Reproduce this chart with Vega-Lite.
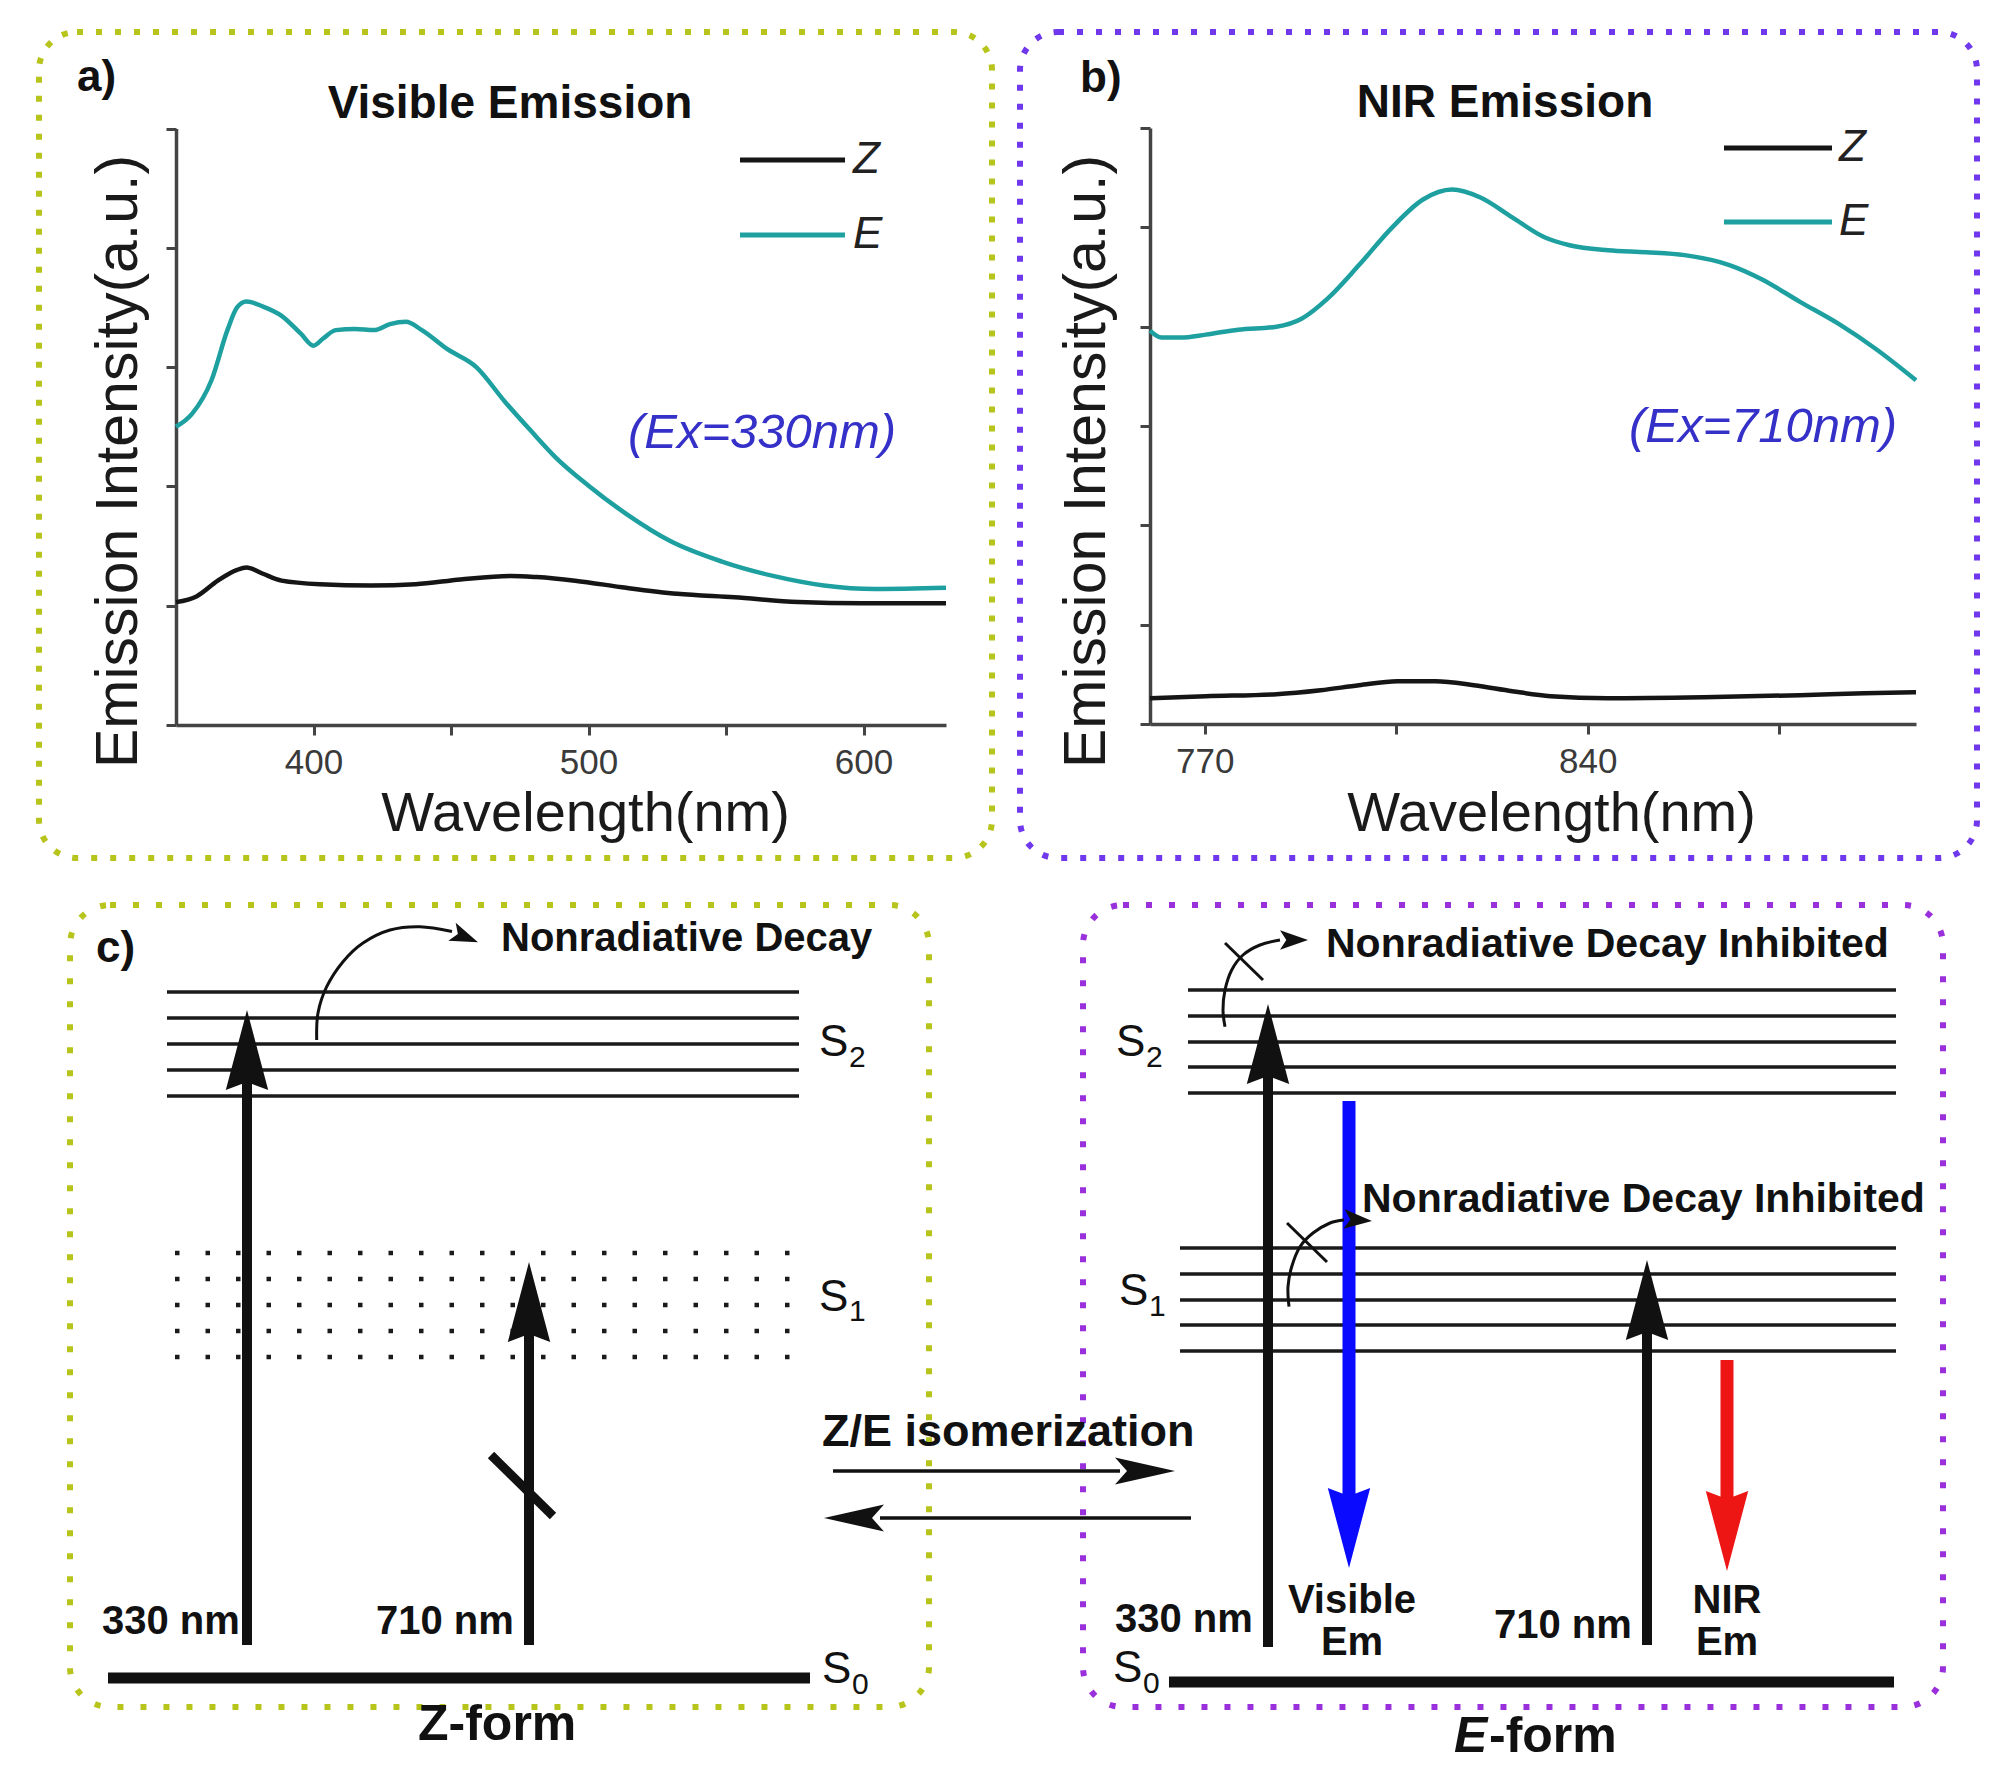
{
  "$schema": "https://vega.github.io/schema/vega-lite/v6.json",
  "width": 1999,
  "height": 1770,
  "autosize": {"type": "none"},
  "padding": 0,
  "background": "white",
  "config": {
    "view": {"stroke": null},
    "font": "Liberation Sans",
    "axis": {
      "grid": false,
      "domainColor": "#444444",
      "domainWidth": 3.5,
      "tickColor": "#444444",
      "tickWidth": 3,
      "tickSize": 10,
      "labelFont": "Liberation Sans",
      "labelFontSize": 35,
      "labelColor": "#3a3a3a",
      "labelPadding": 10,
      "titleFont": "Liberation Sans",
      "titleFontWeight": "normal",
      "titleColor": "#1a1a1a"
    }
  },
  "resolve": {"scale": {"x": "independent", "y": "independent"}},
  "layer": [
    {
      "encoding": {
        "x": {"field": "x", "type": "quantitative", "scale": {"domain": [0, 1999], "range": [0, 1999], "nice": false, "zero": false}, "axis": null},
        "y": {"field": "y", "type": "quantitative", "scale": {"domain": [0, 1770], "range": [0, 1770], "nice": false, "zero": false}, "axis": null}
      },
      "layer": [
        {
          "data": {"values": [
            {"panel": "a", "x": 39, "x2": 992, "y": 32, "y2": 858},
            {"panel": "b", "x": 1020, "x2": 1977, "y": 32, "y2": 858}
          ]},
          "mark": {"type": "rect", "filled": false, "cornerRadius": 38, "strokeWidth": 6, "strokeDash": [6, 13]},
          "encoding": {
            "x2": {"field": "x2"}, "y2": {"field": "y2"},
            "stroke": {"field": "panel", "type": "nominal", "scale": {"domain": ["a", "b", "cZ", "cE"], "range": ["#b6c41c", "#7038ec", "#b6c41c", "#9a30dc"]}, "legend": null}
          }
        },
        {
          "data": {"values": [
            {"panel": "cZ", "x": 70, "x2": 929, "y": 905, "y2": 1707},
            {"panel": "cE", "x": 1083, "x2": 1943, "y": 905, "y2": 1707}
          ]},
          "mark": {"type": "rect", "filled": false, "cornerRadius": 40, "strokeWidth": 6, "strokeDash": [6, 17]},
          "encoding": {
            "x2": {"field": "x2"}, "y2": {"field": "y2"},
            "stroke": {"field": "panel", "type": "nominal", "scale": {"domain": ["a", "b", "cZ", "cE"], "range": ["#b6c41c", "#7038ec", "#b6c41c", "#9a30dc"]}, "legend": null}
          }
        },
        {
          "data": {"values": [
            {"form": "Z", "x": 740, "x2": 845, "y": 160},
            {"form": "E", "x": 740, "x2": 845, "y": 235},
            {"form": "Z", "x": 1724, "x2": 1832, "y": 148},
            {"form": "E", "x": 1724, "x2": 1832, "y": 222}
          ]},
          "mark": {"type": "rule", "strokeWidth": 5},
          "encoding": {
            "x2": {"field": "x2"},
            "color": {"field": "form", "type": "nominal", "scale": {"domain": ["Z", "E"], "range": ["#151515", "#1fa0a0"]}, "legend": null}
          }
        },
        {
          "data": {"values": [
            {"label": "Z", "x": 853, "y": 160},
            {"label": "E", "x": 853, "y": 235},
            {"label": "Z", "x": 1839, "y": 148},
            {"label": "E", "x": 1839, "y": 222}
          ]},
          "mark": {"type": "text", "font": "Liberation Sans", "fontSize": 44, "fontStyle": "italic", "align": "left", "baseline": "middle", "color": "#222222"},
          "encoding": {"text": {"field": "label"}}
        },
        {
          "data": {"values": [
            {"label": "a)", "x": 77, "y": 91},
            {"label": "b)", "x": 1080, "y": 92},
            {"label": "c)", "x": 96, "y": 962}
          ]},
          "mark": {"type": "text", "font": "Liberation Sans", "fontSize": 44, "fontWeight": "bold", "align": "left", "baseline": "alphabetic", "color": "#111111"},
          "encoding": {"text": {"field": "label"}}
        },
        {
          "data": {"values": [
            {"label": "Visible Emission", "x": 510, "y": 104},
            {"label": "NIR Emission", "x": 1505, "y": 103}
          ]},
          "mark": {"type": "text", "font": "Liberation Sans", "fontSize": 46, "fontWeight": "bold", "align": "center", "baseline": "middle", "color": "#111111"},
          "encoding": {"text": {"field": "label"}}
        },
        {
          "data": {"values": [
            {"label": "(Ex=330nm)", "x": 762, "y": 433},
            {"label": "(Ex=710nm)", "x": 1763, "y": 427}
          ]},
          "mark": {"type": "text", "font": "Liberation Sans", "fontSize": 49, "fontStyle": "italic", "align": "center", "baseline": "middle", "color": "#3430c8"},
          "encoding": {"text": {"field": "label"}}
        },
        {
          "data": {"values": [
            {"state": "S2", "x": 167, "x2": 799, "y": 992},
            {"state": "S2", "x": 167, "x2": 799, "y": 1018},
            {"state": "S2", "x": 167, "x2": 799, "y": 1044},
            {"state": "S2", "x": 167, "x2": 799, "y": 1070},
            {"state": "S2", "x": 167, "x2": 799, "y": 1096},
            {"state": "S2", "x": 1188, "x2": 1896, "y": 990},
            {"state": "S2", "x": 1188, "x2": 1896, "y": 1016},
            {"state": "S2", "x": 1188, "x2": 1896, "y": 1042},
            {"state": "S2", "x": 1188, "x2": 1896, "y": 1067},
            {"state": "S2", "x": 1188, "x2": 1896, "y": 1093},
            {"state": "S1", "x": 1180, "x2": 1896, "y": 1248},
            {"state": "S1", "x": 1180, "x2": 1896, "y": 1274},
            {"state": "S1", "x": 1180, "x2": 1896, "y": 1300},
            {"state": "S1", "x": 1180, "x2": 1896, "y": 1325},
            {"state": "S1", "x": 1180, "x2": 1896, "y": 1351}
          ]},
          "mark": {"type": "rule", "strokeWidth": 3.5, "color": "#1a1a1a"},
          "encoding": {"x2": {"field": "x2"}}
        },
        {
          "data": {"values": [
            {"state": "S1", "x": 175, "x2": 795, "y": 1253},
            {"state": "S1", "x": 175, "x2": 795, "y": 1279},
            {"state": "S1", "x": 175, "x2": 795, "y": 1305},
            {"state": "S1", "x": 175, "x2": 795, "y": 1331},
            {"state": "S1", "x": 175, "x2": 795, "y": 1357}
          ]},
          "mark": {"type": "rule", "strokeWidth": 4.5, "strokeDash": [4.5, 26], "color": "#1a1a1a"},
          "encoding": {"x2": {"field": "x2"}}
        },
        {
          "data": {"values": [
            {"state": "S0", "x": 108, "x2": 810, "y": 1678},
            {"state": "S0", "x": 1169, "x2": 1894, "y": 1682}
          ]},
          "mark": {"type": "rule", "strokeWidth": 11, "color": "#111111"},
          "encoding": {"x2": {"field": "x2"}}
        },
        {
          "data": {"values": [
            {"arrow": "330 Z", "x": 247, "y": 1645, "y2": 1060},
            {"arrow": "710 Z", "x": 529, "y": 1645, "y2": 1320},
            {"arrow": "330 E", "x": 1268, "y": 1647, "y2": 1060},
            {"arrow": "710 E", "x": 1647, "y": 1645, "y2": 1320}
          ]},
          "mark": {"type": "rule", "strokeWidth": 10, "color": "#111111"},
          "encoding": {"y2": {"field": "y2"}}
        },
        {
          "data": {"values": [{"arrow": "Visible Em", "x": 1349, "y": 1101, "y2": 1510}]},
          "mark": {"type": "rule", "strokeWidth": 13, "color": "#0a0aff"},
          "encoding": {"y2": {"field": "y2"}}
        },
        {
          "data": {"values": [{"arrow": "NIR Em", "x": 1727, "y": 1360, "y2": 1510}]},
          "mark": {"type": "rule", "strokeWidth": 13, "color": "#ee1515"},
          "encoding": {"y2": {"field": "y2"}}
        },
        {
          "data": {"values": [
            {"arrow": "330 Z", "x": 247, "y": 1050},
            {"arrow": "710 Z", "x": 529, "y": 1302},
            {"arrow": "330 E", "x": 1268, "y": 1044},
            {"arrow": "710 E", "x": 1647, "y": 1300}
          ]},
          "mark": {"type": "point", "shape": "M0,-1L0.53,1L0,0.8L-0.53,1Z", "size": 6400, "filled": true, "opacity": 1, "strokeWidth": 0, "color": "#111111"}
        },
        {
          "data": {"values": [{"arrow": "Visible Em", "x": 1349, "y": 1528}]},
          "mark": {"type": "point", "shape": "M0,-1L0.53,1L0,0.8L-0.53,1Z", "size": 6400, "angle": 180, "filled": true, "opacity": 1, "strokeWidth": 0, "color": "#0a0aff"}
        },
        {
          "data": {"values": [{"arrow": "NIR Em", "x": 1727, "y": 1531}]},
          "mark": {"type": "point", "shape": "M0,-1L0.53,1L0,0.8L-0.53,1Z", "size": 6400, "angle": 180, "filled": true, "opacity": 1, "strokeWidth": 0, "color": "#ee1515"}
        },
        {
          "data": {"values": [{"mark": "blocked", "x": 491, "y": 1455, "x2": 553, "y2": 1516}]},
          "mark": {"type": "rule", "strokeWidth": 9, "color": "#111111"},
          "encoding": {"x2": {"field": "x2"}, "y2": {"field": "y2"}}
        },
        {
          "data": {"values": [
            {"mark": "inhibited S2", "x": 1225, "y": 943, "x2": 1263, "y2": 980},
            {"mark": "inhibited S1", "x": 1287, "y": 1223, "x2": 1327, "y2": 1262}
          ]},
          "mark": {"type": "rule", "strokeWidth": 3, "color": "#111111"},
          "encoding": {"x2": {"field": "x2"}, "y2": {"field": "y2"}}
        },
        {
          "data": {"values": [
            {"dir": "Z to E", "x": 833, "x2": 1120, "y": 1471},
            {"dir": "E to Z", "x": 880, "x2": 1191, "y": 1518}
          ]},
          "mark": {"type": "rule", "strokeWidth": 3.5, "color": "#111111"},
          "encoding": {"x2": {"field": "x2"}}
        },
        {
          "data": {"values": [
            {"dir": "Z to E", "x": 1145, "y": 1471, "heading": 90},
            {"dir": "E to Z", "x": 854, "y": 1518, "heading": 270}
          ]},
          "mark": {"type": "point", "shape": "M0,-1L0.45,1L0,0.6L-0.45,1Z", "size": 3600, "filled": true, "opacity": 1, "strokeWidth": 0, "color": "#111111"},
          "encoding": {"angle": {"field": "heading", "type": "quantitative", "scale": {"domain": [0, 360], "range": [0, 360]}}}
        },
        {
          "data": {"values": [
            {"c": "L", "i": 0, "x": 316.7, "y": 1040},
            {"c": "L", "i": 1, "x": 318, "y": 1013},
            {"c": "L", "i": 2, "x": 326.7, "y": 986.7},
            {"c": "L", "i": 3, "x": 343, "y": 961.7},
            {"c": "L", "i": 4, "x": 363, "y": 943},
            {"c": "L", "i": 5, "x": 390, "y": 930},
            {"c": "L", "i": 6, "x": 420, "y": 926.7},
            {"c": "L", "i": 7, "x": 452, "y": 931.5},
            {"c": "T", "i": 0, "x": 1225, "y": 1026.7},
            {"c": "T", "i": 1, "x": 1223, "y": 1010},
            {"c": "T", "i": 2, "x": 1225, "y": 990},
            {"c": "T", "i": 3, "x": 1231.7, "y": 970},
            {"c": "T", "i": 4, "x": 1243, "y": 955},
            {"c": "T", "i": 5, "x": 1260, "y": 945},
            {"c": "T", "i": 6, "x": 1280, "y": 940},
            {"c": "M", "i": 0, "x": 1289, "y": 1306.7},
            {"c": "M", "i": 1, "x": 1288, "y": 1286.7},
            {"c": "M", "i": 2, "x": 1291.7, "y": 1266.7},
            {"c": "M", "i": 3, "x": 1300, "y": 1246.7},
            {"c": "M", "i": 4, "x": 1313, "y": 1233},
            {"c": "M", "i": 5, "x": 1330, "y": 1223},
            {"c": "M", "i": 6, "x": 1344, "y": 1220}
          ]},
          "mark": {"type": "line", "interpolate": "cardinal", "strokeWidth": 3, "color": "#111111"},
          "encoding": {"order": {"field": "i", "type": "quantitative"}, "detail": {"field": "c", "type": "nominal"}}
        },
        {
          "data": {"values": [
            {"c": "L", "x": 465, "y": 937, "heading": 112},
            {"c": "T", "x": 1294, "y": 940, "heading": 90},
            {"c": "M", "x": 1358, "y": 1220, "heading": 94}
          ]},
          "mark": {"type": "point", "shape": "M0,-1L0.7,1L0,0.55L-0.7,1Z", "size": 784, "filled": true, "opacity": 1, "strokeWidth": 0, "color": "#111111"},
          "encoding": {"angle": {"field": "heading", "type": "quantitative", "scale": {"domain": [0, 360], "range": [0, 360]}}}
        },
        {
          "data": {"values": [
            {"label": "Nonradiative Decay", "x": 501, "y": 939},
            {"label": "330 nm", "x": 102, "y": 1622},
            {"label": "710 nm", "x": 376, "y": 1622},
            {"label": "330 nm", "x": 1115, "y": 1620},
            {"label": "710 nm", "x": 1494, "y": 1626}
          ]},
          "mark": {"type": "text", "font": "Liberation Sans", "fontSize": 40, "fontWeight": "bold", "align": "left", "baseline": "middle", "color": "#111111"},
          "encoding": {"text": {"field": "label"}}
        },
        {
          "data": {"values": [
            {"label": "Nonradiative Decay Inhibited", "x": 1326, "y": 945},
            {"label": "Nonradiative Decay Inhibited", "x": 1362, "y": 1200}
          ]},
          "mark": {"type": "text", "font": "Liberation Sans", "fontSize": 41, "fontWeight": "bold", "align": "left", "baseline": "middle", "color": "#111111"},
          "encoding": {"text": {"field": "label"}}
        },
        {
          "data": {"values": [
            {"label": "Visible", "x": 1352, "y": 1601},
            {"label": "Em", "x": 1352, "y": 1643},
            {"label": "NIR", "x": 1727, "y": 1601},
            {"label": "Em", "x": 1727, "y": 1643}
          ]},
          "mark": {"type": "text", "font": "Liberation Sans", "fontSize": 40, "fontWeight": "bold", "align": "center", "baseline": "middle", "color": "#111111"},
          "encoding": {"text": {"field": "label"}}
        },
        {
          "data": {"values": [{"label": "Z/E isomerization", "x": 822, "y": 1432}]},
          "mark": {"type": "text", "font": "Liberation Sans", "fontSize": 45, "fontWeight": "bold", "align": "left", "baseline": "middle", "color": "#111111"},
          "encoding": {"text": {"field": "label"}}
        },
        {
          "data": {"values": [
            {"label": "Z-form", "x": 418, "y": 1725},
            {"label": "-form", "x": 1489, "y": 1737}
          ]},
          "mark": {"type": "text", "font": "Liberation Sans", "fontSize": 50, "fontWeight": "bold", "align": "left", "baseline": "middle", "color": "#111111"},
          "encoding": {"text": {"field": "label"}}
        },
        {
          "data": {"values": [{"label": "E", "x": 1454, "y": 1737}]},
          "mark": {"type": "text", "font": "Liberation Sans", "fontSize": 50, "fontWeight": "bold", "fontStyle": "italic", "align": "left", "baseline": "middle", "color": "#111111"},
          "encoding": {"text": {"field": "label"}}
        },
        {
          "data": {"values": [
            {"label": "S", "x": 819, "y": 1043},
            {"label": "S", "x": 819, "y": 1298},
            {"label": "S", "x": 822, "y": 1670},
            {"label": "S", "x": 1116, "y": 1043},
            {"label": "S", "x": 1119, "y": 1292},
            {"label": "S", "x": 1113, "y": 1669}
          ]},
          "mark": {"type": "text", "font": "Liberation Sans", "fontSize": 44, "align": "left", "baseline": "middle", "color": "#111111"},
          "encoding": {"text": {"field": "label"}}
        },
        {
          "data": {"values": [
            {"label": "2", "x": 849, "y": 1058},
            {"label": "1", "x": 849, "y": 1312},
            {"label": "0", "x": 852, "y": 1685},
            {"label": "2", "x": 1146, "y": 1058},
            {"label": "1", "x": 1149, "y": 1307},
            {"label": "0", "x": 1143, "y": 1684}
          ]},
          "mark": {"type": "text", "font": "Liberation Sans", "fontSize": 30, "align": "left", "baseline": "middle", "color": "#111111"},
          "encoding": {"text": {"field": "label"}}
        }
      ]
    },
    {
      "data": {"values": [
        {"form": "E", "nm": 350, "intensity": 2.50},
        {"form": "E", "nm": 355.9, "intensity": 2.61},
        {"form": "E", "nm": 362.9, "intensity": 2.89},
        {"form": "E", "nm": 368.7, "intensity": 3.31},
        {"form": "E", "nm": 372.2, "intensity": 3.50},
        {"form": "E", "nm": 375.6, "intensity": 3.55},
        {"form": "E", "nm": 381.4, "intensity": 3.51},
        {"form": "E", "nm": 388.4, "intensity": 3.43},
        {"form": "E", "nm": 395.4, "intensity": 3.28},
        {"form": "E", "nm": 400, "intensity": 3.18},
        {"form": "E", "nm": 403.5, "intensity": 3.24},
        {"form": "E", "nm": 408.1, "intensity": 3.31},
        {"form": "E", "nm": 415.1, "intensity": 3.32},
        {"form": "E", "nm": 422.0, "intensity": 3.31},
        {"form": "E", "nm": 427.8, "intensity": 3.36},
        {"form": "E", "nm": 433.6, "intensity": 3.38},
        {"form": "E", "nm": 439.4, "intensity": 3.31},
        {"form": "E", "nm": 448.7, "intensity": 3.15},
        {"form": "E", "nm": 459.2, "intensity": 3.00},
        {"form": "E", "nm": 469.6, "intensity": 2.71},
        {"form": "E", "nm": 478.9, "intensity": 2.47},
        {"form": "E", "nm": 488.2, "intensity": 2.24},
        {"form": "E", "nm": 499.8, "intensity": 2.01},
        {"form": "E", "nm": 513.7, "intensity": 1.77},
        {"form": "E", "nm": 529.9, "intensity": 1.54},
        {"form": "E", "nm": 548.5, "intensity": 1.37},
        {"form": "E", "nm": 567.1, "intensity": 1.25},
        {"form": "E", "nm": 585.6, "intensity": 1.17},
        {"form": "E", "nm": 604.2, "intensity": 1.14},
        {"form": "E", "nm": 630, "intensity": 1.15},
        {"form": "Z", "nm": 350, "intensity": 1.03},
        {"form": "Z", "nm": 357.6, "intensity": 1.08},
        {"form": "Z", "nm": 365.2, "intensity": 1.21},
        {"form": "Z", "nm": 372.2, "intensity": 1.30},
        {"form": "Z", "nm": 375.6, "intensity": 1.32},
        {"form": "Z", "nm": 381.4, "intensity": 1.27},
        {"form": "Z", "nm": 388.4, "intensity": 1.21},
        {"form": "Z", "nm": 402.3, "intensity": 1.18},
        {"form": "Z", "nm": 420.9, "intensity": 1.17},
        {"form": "Z", "nm": 437.1, "intensity": 1.18},
        {"form": "Z", "nm": 453.4, "intensity": 1.22},
        {"form": "Z", "nm": 471.9, "intensity": 1.25},
        {"form": "Z", "nm": 481.2, "intensity": 1.24},
        {"form": "Z", "nm": 495.1, "intensity": 1.21},
        {"form": "Z", "nm": 513.7, "intensity": 1.15},
        {"form": "Z", "nm": 532.3, "intensity": 1.10},
        {"form": "Z", "nm": 553.1, "intensity": 1.07},
        {"form": "Z", "nm": 576.3, "intensity": 1.03},
        {"form": "Z", "nm": 599.5, "intensity": 1.02},
        {"form": "Z", "nm": 630, "intensity": 1.02}
      ]},
      "mark": {"type": "line", "interpolate": "monotone", "strokeWidth": 4.5},
      "encoding": {
        "x": {"field": "nm", "type": "quantitative",
              "scale": {"domain": [350, 630], "range": [176, 946], "nice": false, "zero": false},
              "axis": {"orient": "bottom", "offset": -1045, "values": [400, 450, 500, 550, 600],
                       "labelExpr": "datum.value % 100 === 0 ? datum.label : ''",
                       "title": "Wavelength(nm)", "titleFontSize": 56, "titleX": 585, "titleY": 88, "titleBaseline": "middle", "titleAlign": "center"}},
        "y": {"field": "intensity", "type": "quantitative",
              "scale": {"domain": [0, 5], "range": [725, 128.5], "nice": false, "zero": false},
              "axis": {"orient": "left", "offset": -176, "values": [0, 1, 2, 3, 4, 5], "labels": false,
                       "title": "Emission Intensity(a.u.)", "titleFontSize": 59, "titleX": -58, "titleY": 461, "titleAngle": -90, "titleBaseline": "middle", "titleAlign": "center"}},
        "color": {"field": "form", "type": "nominal", "scale": {"domain": ["Z", "E"], "range": ["#151515", "#1fa0a0"]}, "legend": null}
      }
    },
    {
      "data": {"values": [
        {"form": "E", "nm": 760, "intensity": 3.96},
        {"form": "E", "nm": 762.1, "intensity": 3.89},
        {"form": "E", "nm": 765.6, "intensity": 3.89},
        {"form": "E", "nm": 770.2, "intensity": 3.92},
        {"form": "E", "nm": 776.1, "intensity": 3.97},
        {"form": "E", "nm": 783.1, "intensity": 4.00},
        {"form": "E", "nm": 787.7, "intensity": 4.08},
        {"form": "E", "nm": 792.4, "intensity": 4.28},
        {"form": "E", "nm": 798.2, "intensity": 4.62},
        {"form": "E", "nm": 804.1, "intensity": 4.99},
        {"form": "E", "nm": 809.9, "intensity": 5.28},
        {"form": "E", "nm": 815.2, "intensity": 5.38},
        {"form": "E", "nm": 820.4, "intensity": 5.30},
        {"form": "E", "nm": 826.2, "intensity": 5.10},
        {"form": "E", "nm": 832.1, "intensity": 4.90},
        {"form": "E", "nm": 836.7, "intensity": 4.82},
        {"form": "E", "nm": 843.7, "intensity": 4.77},
        {"form": "E", "nm": 850.7, "intensity": 4.75},
        {"form": "E", "nm": 857.7, "intensity": 4.72},
        {"form": "E", "nm": 865.9, "intensity": 4.62},
        {"form": "E", "nm": 871.7, "intensity": 4.48},
        {"form": "E", "nm": 878.8, "intensity": 4.25},
        {"form": "E", "nm": 885.8, "intensity": 4.03},
        {"form": "E", "nm": 892.8, "intensity": 3.77},
        {"form": "E", "nm": 900, "intensity": 3.46},
        {"form": "Z", "nm": 760, "intensity": 0.26},
        {"form": "Z", "nm": 770.2, "intensity": 0.28},
        {"form": "Z", "nm": 783.1, "intensity": 0.30},
        {"form": "Z", "nm": 791.2, "intensity": 0.34},
        {"form": "Z", "nm": 798.2, "intensity": 0.39},
        {"form": "Z", "nm": 805.2, "intensity": 0.43},
        {"form": "Z", "nm": 812.2, "intensity": 0.43},
        {"form": "Z", "nm": 819.2, "intensity": 0.39},
        {"form": "Z", "nm": 826.2, "intensity": 0.33},
        {"form": "Z", "nm": 833.2, "intensity": 0.28},
        {"form": "Z", "nm": 843.7, "intensity": 0.26},
        {"form": "Z", "nm": 861.2, "intensity": 0.27},
        {"form": "Z", "nm": 878.8, "intensity": 0.29},
        {"form": "Z", "nm": 890.5, "intensity": 0.31},
        {"form": "Z", "nm": 900, "intensity": 0.32}
      ]},
      "mark": {"type": "line", "interpolate": "monotone", "strokeWidth": 4.5},
      "encoding": {
        "x": {"field": "nm", "type": "quantitative",
              "scale": {"domain": [760, 900], "range": [1150, 1916], "nice": false, "zero": false},
              "axis": {"orient": "bottom", "offset": -1046, "values": [770, 805, 840, 875],
                       "labelExpr": "datum.value === 770 || datum.value === 840 ? datum.label : ''",
                       "title": "Wavelength(nm)", "titleFontSize": 56, "titleX": 1551, "titleY": 89, "titleBaseline": "middle", "titleAlign": "center"}},
        "y": {"field": "intensity", "type": "quantitative",
              "scale": {"domain": [0, 6], "range": [724, 128], "nice": false, "zero": false},
              "axis": {"orient": "left", "offset": -1150, "values": [0, 1, 2, 3, 4, 5, 6], "labels": false,
                       "title": "Emission Intensity(a.u.)", "titleFontSize": 59, "titleX": -64, "titleY": 461, "titleAngle": -90, "titleBaseline": "middle", "titleAlign": "center"}},
        "color": {"field": "form", "type": "nominal", "scale": {"domain": ["Z", "E"], "range": ["#151515", "#1fa0a0"]}, "legend": null}
      }
    }
  ]
}
